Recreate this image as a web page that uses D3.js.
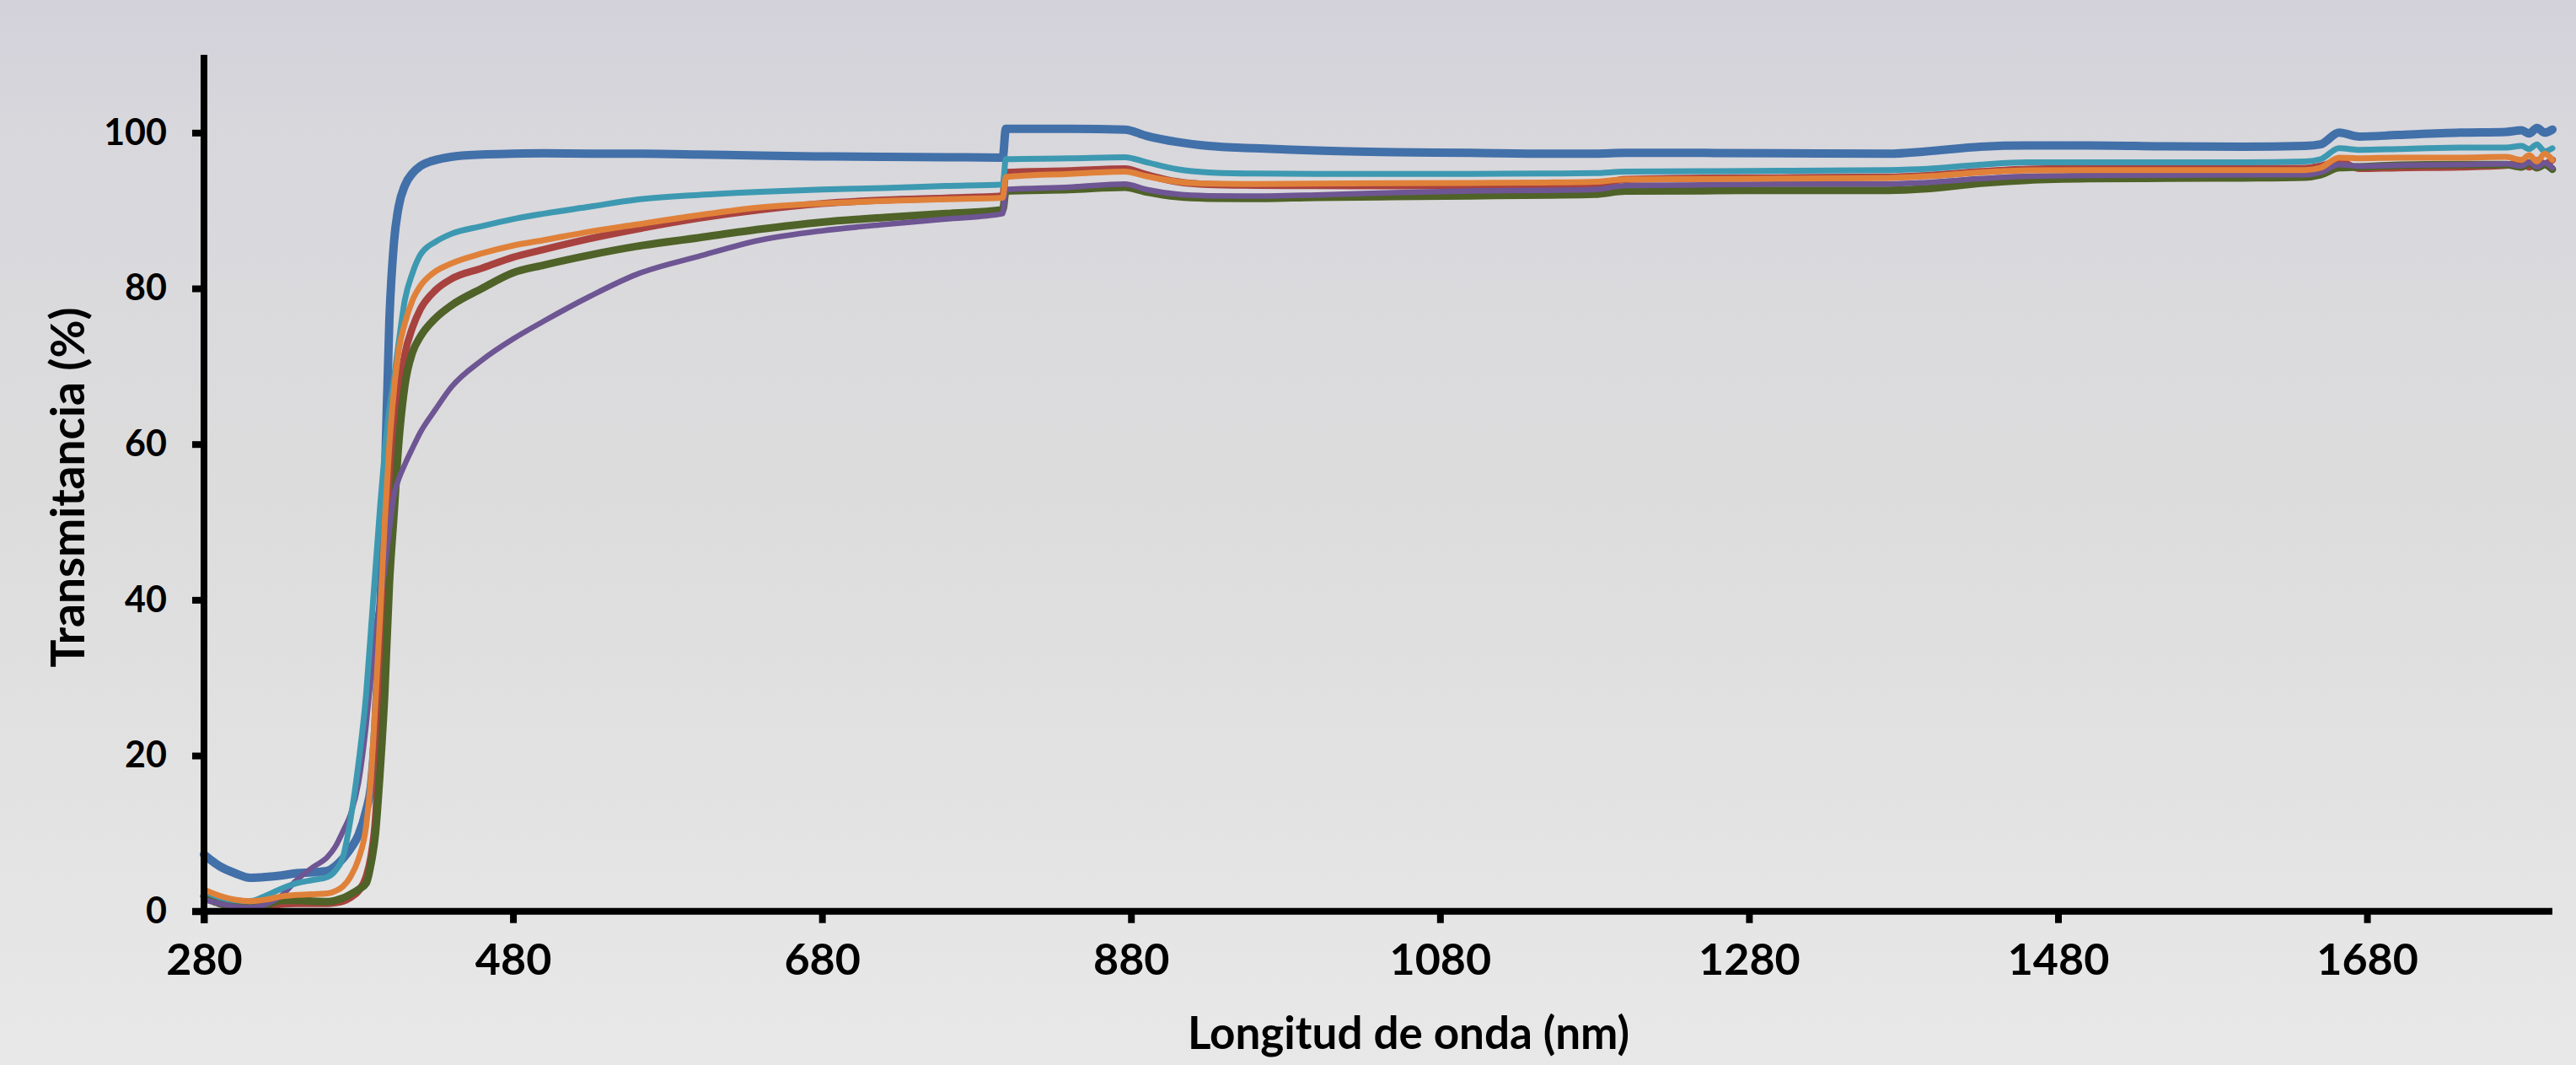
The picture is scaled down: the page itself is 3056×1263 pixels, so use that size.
<!DOCTYPE html>
<html>
<head>
<meta charset="utf-8">
<script src="https://cdn.jsdelivr.net/npm/d3@7"></script>
<style>
    html, body { margin: 0; padding: 0; }
    body { width: 3056px; height: 1263px; overflow: hidden; }
    svg { display: block; }
</style>
</head>
<body>
<div class="Canvas"></div>
<script>
// wavelengths (nm) shared by all series
const wavelengths = [280, 290, 300, 310, 320, 330, 340, 350, 360, 365, 370, 375, 380, 385, 388, 391, 394, 397, 400, 403,
    406, 410, 415, 420, 430, 440, 460, 480, 500, 530, 560, 600, 640, 680, 720, 760, 797, 799, 840, 876,
    890, 910, 930, 960, 1000, 1050, 1100, 1150, 1180, 1200, 1250, 1300, 1370, 1395, 1430, 1460, 1500, 1550, 1600, 1640,
    1650, 1662, 1675, 1700, 1740, 1770, 1780, 1785, 1790, 1795, 1800];

// transmittance (%) per sample
const blueValues = [7.3, 5.8, 4.9, 4.3, 4.4, 4.6, 4.9, 5.0, 5.2, 5.8, 6.8, 8.1, 9.8, 13, 16, 24, 38, 55, 76, 86,
    90.5, 93.2, 94.8, 95.7, 96.5, 96.9, 97.2, 97.3, 97.35, 97.3, 97.3, 97.2, 97.05, 96.95, 96.9, 96.85, 96.8, 100.5, 100.5, 100.4,
    99.6, 98.8, 98.3, 98.0, 97.7, 97.5, 97.4, 97.3, 97.3, 97.4, 97.4, 97.35, 97.3, 97.6, 98.2, 98.35, 98.35, 98.25, 98.2, 98.3,
    98.5, 100.0, 99.5, 99.7, 100.0, 100.1, 100.3, 99.9, 100.6, 100.0, 100.4];
const redValues = [2.0, 1.2, 0.7, 0.5, 0.6, 0.9, 1.0, 1.0, 1.0, 1.1, 1.3, 1.8, 2.6, 4.5, 7, 12, 24, 40, 52, 60,
    66, 71.5, 75, 77.3, 79.8, 81.2, 82.6, 84.0, 85.0, 86.4, 87.6, 89.0, 90.1, 90.9, 91.35, 91.6, 91.85, 94.9, 95.1, 95.35,
    94.6, 93.7, 93.35, 93.25, 93.2, 93.2, 93.2, 93.2, 93.3, 94.0, 94.15, 94.2, 94.3, 94.5, 95.0, 95.3, 95.4, 95.4, 95.4, 95.4,
    95.7, 96.3, 95.4, 95.5, 95.6, 95.8, 96.2, 95.6, 96.4, 96.0, 96.5];
const greenValues = [1.9, 1.0, 0.6, 0.5, 0.8, 1.4, 1.4, 1.3, 1.25, 1.4, 1.7, 2.2, 2.8, 3.6, 6, 10, 18, 28, 42, 51,
    60, 67.5, 71.8, 73.8, 76.2, 77.8, 80.0, 82.0, 83.0, 84.3, 85.4, 86.5, 87.6, 88.5, 89.1, 89.6, 90.1, 92.5, 92.7, 93.0,
    92.4, 91.8, 91.6, 91.55, 91.7, 91.8, 91.9, 92.0, 92.1, 92.5, 92.55, 92.6, 92.6, 92.8, 93.5, 93.9, 94.1, 94.15, 94.2, 94.3,
    94.6, 95.5, 95.6, 95.8, 95.9, 95.9, 95.6, 96.1, 95.5, 95.9, 95.3];
const purpleValues = [1.5, 1.0, 0.6, 0.5, 0.9, 2.0, 4.0, 5.6, 7.0, 8.3, 10.3, 12.5, 16.5, 24, 30, 36, 40, 44, 49, 53.5,
    55.5, 57.4, 59.5, 61.5, 64.5, 67.3, 70.8, 73.5, 75.8, 79.0, 81.8, 84.1, 86.2, 87.4, 88.2, 88.9, 89.6, 92.7, 93.0, 93.4,
    92.7, 92.1, 91.9, 91.85, 92.0, 92.3, 92.5, 92.6, 92.7, 93.2, 93.3, 93.4, 93.4, 93.6, 94.1, 94.4, 94.5, 94.55, 94.6, 94.6,
    94.9, 95.9, 95.7, 95.8, 95.9, 96.0, 95.7, 96.2, 95.6, 96.1, 95.5];
const aquaValues = [2.6, 1.8, 1.4, 1.3, 2.0, 2.9, 3.6, 4.0, 4.4, 5.2, 7.0, 12, 19, 28, 36, 44, 52, 59, 64.5, 68.5,
    73, 78.5, 82, 84.3, 86, 87, 88, 88.9, 89.6, 90.5, 91.4, 92.0, 92.4, 92.7, 92.9, 93.15, 93.35, 96.6, 96.7, 96.85,
    96.2, 95.3, 94.9, 94.75, 94.7, 94.7, 94.7, 94.75, 94.8, 95.0, 95.05, 95.1, 95.2, 95.35, 95.9, 96.2, 96.2, 96.2, 96.2, 96.3,
    96.6, 98.0, 97.8, 97.9, 98.1, 98.1, 98.3, 97.9, 98.5, 97.6, 98.0];
const orangeValues = [2.8, 2.0, 1.5, 1.3, 1.5, 1.9, 2.1, 2.2, 2.3, 2.6, 3.2, 4.5, 6.7, 11, 17, 27, 38, 50, 60, 67,
    72, 75.5, 78.5, 80.3, 82.2, 83.2, 84.5, 85.5, 86.2, 87.3, 88.2, 89.4, 90.4, 90.9, 91.25, 91.45, 91.65, 94.3, 94.7, 95.0,
    94.4, 93.7, 93.45, 93.4, 93.45, 93.5, 93.55, 93.6, 93.7, 94.0, 94.05, 94.1, 94.2, 94.4, 94.9, 95.15, 95.2, 95.2, 95.2, 95.2,
    95.5, 96.8, 96.7, 96.8, 96.8, 96.9, 96.5, 97.1, 96.3, 97.3, 96.5];

const xTicks = [280, 480, 680, 880, 1080, 1280, 1480, 1680];
const yTicks = [0, 20, 40, 60, 80, 100];

// drawing order: later series sit on top
const series = [
    { name: 'blue', values: blueValues, color: '#4270A9', width: 10 },
    { name: 'red', values: redValues, color: '#A8423F', width: 8.5 },
    { name: 'green', values: greenValues, color: '#4F6228', width: 9 },
    { name: 'purple', values: purpleValues, color: '#6E5593', width: 6.5 },
    { name: 'aqua', values: aquaValues, color: '#3D99B1', width: 7 },
    { name: 'orange', values: orangeValues, color: '#E0813A', width: 7 },
];

const width = 3056;
const height = 1263;
const plot = { left: 242, right: 3028, top: 65, bottom: 1080.7 };
const axisStroke = 8;
const tickLength = 14;
const fontFamily = 'Lato, "Open Sans", sans-serif';

let svg = d3.select('.Canvas').append('svg').attr('width', width).attr('height', height);

// background gradient
let grad = svg.append('defs').append('linearGradient').attr('id', 'bg').attr('x1', 0).attr('y1', 0).attr('x2', 0).attr('y2', 1);
grad.append('stop').attr('offset', '0%').attr('stop-color', '#D3D1DA');
grad.append('stop').attr('offset', '12%').attr('stop-color', '#D8D7DC');
grad.append('stop').attr('offset', '50%').attr('stop-color', '#DDDDDD');
grad.append('stop').attr('offset', '100%').attr('stop-color', '#E8E8E8');
svg.append('rect').attr('width', width).attr('height', height).attr('fill', 'url(#bg)');

const x = d3.scaleLinear().domain([280, 1800]).range([plot.left, plot.right]);
const y = d3.scaleLinear().domain([0, 110]).range([plot.bottom, plot.top]);

// lines
const line = d3
    .line()
    .x((d) => x(d[0]))
    .y((d) => y(d[1]))
    .curve(d3.curveMonotoneX);

svg.append('g')
    .selectAll('path')
    .data(series)
    .enter()
    .append('path')
    .attr('fill', 'none')
    .attr('stroke', (d) => d.color)
    .attr('stroke-width', (d) => d.width)
    .attr('stroke-linejoin', 'round')
    .attr('stroke-linecap', 'round')
    .attr('d', (d) => line(wavelengths.map((w, i) => [w, d.values[i]])));

// axes
let xAxis = svg
    .append('g')
    .attr('transform', `translate(0,${plot.bottom})`)
    .call(d3.axisBottom(x).tickValues(xTicks).tickFormat(d3.format('d')).tickSize(tickLength).tickPadding(24).tickSizeOuter(0));
let yAxis = svg
    .append('g')
    .attr('transform', `translate(${plot.left},0)`)
    .call(d3.axisLeft(y).tickValues(yTicks).tickFormat(d3.format('d')).tickSize(tickLength).tickPadding(30).tickSizeOuter(0));

[xAxis, yAxis].forEach((a) => {
    a.select('.domain').attr('stroke', 'black').attr('stroke-width', axisStroke);
    a.selectAll('.tick line').attr('stroke', 'black').attr('stroke-width', axisStroke);
    a.selectAll('.tick text').attr('fill', 'black').attr('font-family', fontFamily).attr('font-weight', 'bold');
});
xAxis.selectAll('.tick text').attr('font-size', '52px');
yAxis.selectAll('.tick text').attr('font-size', '43px');
// extend x axis to the left end of y ticks, y axis down to x ticks
xAxis.select('.domain').attr('d', `M${plot.left - tickLength},0H${plot.right}`);
yAxis.select('.domain').attr('d', `M0,${plot.top}V${plot.bottom + tickLength}`);

// axis titles
svg.append('text')
    .attr('x', 1671)
    .attr('y', 1244)
    .attr('text-anchor', 'middle')
    .attr('font-family', fontFamily)
    .attr('font-weight', 'bold')
    .attr('font-size', '53px')
    .text('Longitud de onda (nm)');

svg.append('text')
    .attr('transform', 'translate(100,578) rotate(-90)')
    .attr('text-anchor', 'middle')
    .attr('font-family', fontFamily)
    .attr('font-weight', 'bold')
    .attr('font-size', '55px')
    .text('Transmitancia (%)');
</script>
</body>
</html>
